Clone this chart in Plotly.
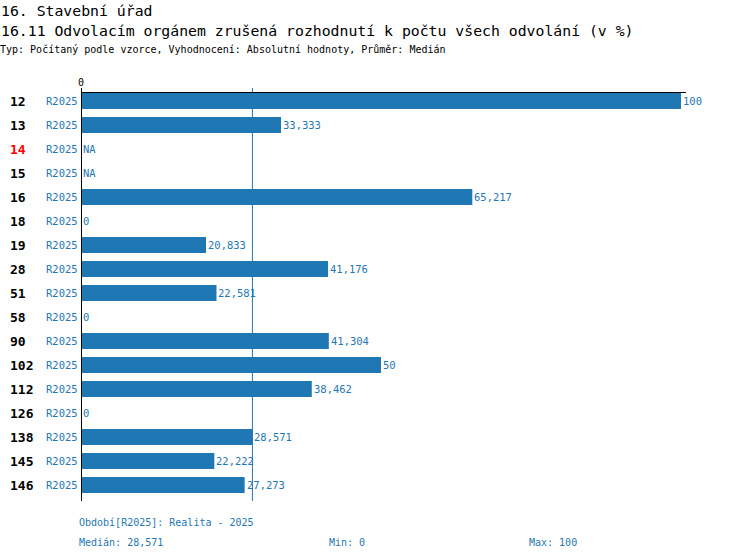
import plotly.graph_objects as go

categories = ["12", "13", "14", "15", "16", "18", "19", "28", "51", "58", "90", "102", "112", "126", "138", "145", "146"]
values = [100, 33.333, None, None, 65.217, 0, 20.833, 41.176, 22.581, 0, 41.304, 50, 38.462, 0, 28.571, 22.222, 27.273]
series_label = "R2025"
highlight = ["14"]
median_value = 28.571
min_value = 0
max_value = 100

FONT = "DejaVu Sans Mono"
BLUE = "#1f77b4"

W, H = 750, 560
L, T = 81, 89
PW, PH = 600, 408
R = W - L - PW
B = H - T - PH


def px_x(px):
    return (px - L) / PW


def px_y(py):
    return (H - B - py) / PH


def fmt(v):
    s = f"{v:.3f}".rstrip("0").rstrip(".")
    return s.replace(".", ",")


fig = go.Figure()
fig.add_trace(go.Bar(
    y=categories, x=values, orientation="h",
    marker=dict(color=BLUE, line=dict(width=0)),
    hoverinfo="skip", showlegend=False,
))

ann = []
for i, (c, v) in enumerate(zip(categories, values)):
    ann.append(dict(x=0, xref="x", y=i, yref="y", text=f"<b>{c}</b>", showarrow=False,
                    xanchor="left", xshift=-73, yanchor="middle",
                    font=dict(family=FONT, size=13, color="#ff0000" if c in highlight else "#000000")))
    ann.append(dict(x=0, xref="x", y=i, yref="y", text=series_label, showarrow=False,
                    xanchor="right", xshift=-1, yanchor="middle",
                    font=dict(family=FONT, size=10.5, color=BLUE)))
    txt = "NA" if v is None else fmt(v)
    ann.append(dict(x=0 if v is None else v, xref="x", y=i, yref="y", text=txt, showarrow=False,
                    xanchor="left", xshift=0, yanchor="middle",
                    font=dict(family=FONT, size=10.5, color=BLUE)))

ann.append(dict(x=px_x(-1), y=px_y(10), xref="paper", yref="paper", text="16. Stavební úřad",
                showarrow=False, xanchor="left", yanchor="middle",
                font=dict(family=FONT, size=14.8, color="#000000")))
ann.append(dict(x=px_x(-1), y=px_y(30), xref="paper", yref="paper",
                text="16.11 Odvolacím orgánem zrušená rozhodnutí k počtu všech odvolání (v %)",
                showarrow=False, xanchor="left", yanchor="middle",
                font=dict(family=FONT, size=14.8, color="#000000")))
ann.append(dict(x=px_x(-2), y=px_y(50), xref="paper", yref="paper",
                text="Typ: Počítaný podle vzorce, Vyhodnocení: Absolutní hodnoty, Průměr: Medián",
                showarrow=False, xanchor="left", yanchor="middle",
                font=dict(family=FONT, size=10, color="#000000")))
ann.append(dict(x=0, xref="x", y=px_y(82), yref="paper", text="0", showarrow=False,
                xanchor="center", yanchor="middle",
                font=dict(family=FONT, size=10, color="#000000")))
ann.append(dict(x=px_x(77), y=px_y(522), xref="paper", yref="paper",
                text="Období[R2025]: Realita - 2025", showarrow=False, xanchor="left", yanchor="middle",
                font=dict(family=FONT, size=10, color=BLUE)))
ann.append(dict(x=px_x(77), y=px_y(542), xref="paper", yref="paper",
                text=f"Medián: {fmt(median_value)}", showarrow=False, xanchor="left", yanchor="middle",
                font=dict(family=FONT, size=10, color=BLUE)))
ann.append(dict(x=px_x(327), y=px_y(542), xref="paper", yref="paper",
                text=f"Min: {fmt(min_value)}", showarrow=False, xanchor="left", yanchor="middle",
                font=dict(family=FONT, size=10, color=BLUE)))
ann.append(dict(x=px_x(527), y=px_y(542), xref="paper", yref="paper",
                text=f"Max: {fmt(max_value)}", showarrow=False, xanchor="left", yanchor="middle",
                font=dict(family=FONT, size=10, color=BLUE)))

shapes = [
    dict(type="line", xref="x", yref="paper", x0=median_value, x1=median_value,
         y0=px_y(501), y1=px_y(88), line=dict(color=BLUE, width=1)),
    dict(type="line", xref="x", yref="paper", x0=0, x1=0,
         y0=px_y(501), y1=px_y(88), line=dict(color="#000000", width=2)),
    dict(type="line", xref="paper", yref="paper", x0=0, x1=px_x(686),
         y0=px_y(92.5), y1=px_y(92.5), line=dict(color="#000000", width=1)),
]

fig.update_layout(
    width=W, height=H,
    margin=dict(l=L, r=R, t=T, b=B, pad=0),
    paper_bgcolor="white", plot_bgcolor="white",
    bargap=1/3,
    showlegend=False,
    xaxis=dict(range=[0, 100], showgrid=False, zeroline=False, showticklabels=False,
               showline=False, ticks="", fixedrange=True),
    yaxis=dict(type="category", categoryorder="array", categoryarray=categories,
               range=[len(categories) - 0.5, -0.5], showgrid=False, zeroline=False,
               showticklabels=False, showline=False, ticks="", fixedrange=True),
    annotations=ann,
    shapes=shapes,
    font=dict(family=FONT),
)

fig.write_html("out.html", config={"displayModeBar": False},
               post_script="document.body.style.margin='0';document.body.style.padding='0';")
